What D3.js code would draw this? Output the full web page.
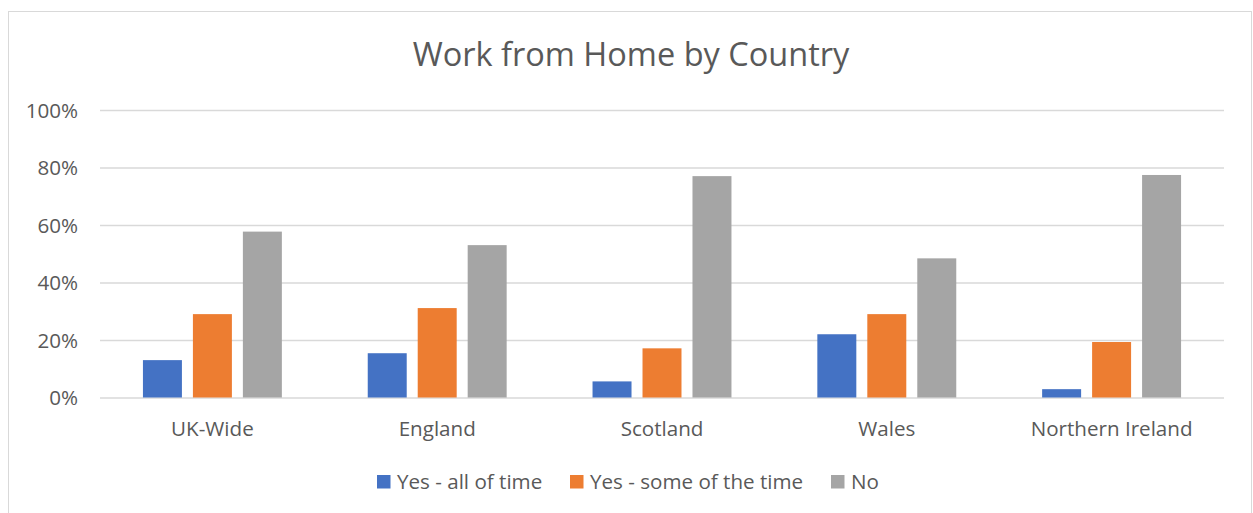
<!DOCTYPE html>
<html>
<head>
<meta charset="utf-8">
<script src="https://cdn.jsdelivr.net/npm/d3@7"></script>
<style>
  html, body { margin: 0; padding: 0; background: #ffffff; }
  svg { display: block; }
  text { font-family: "Open Sans", "Noto Sans", sans-serif; fill: #595959; }
</style>
</head>
<body>
<svg id="chart" width="1253" height="513"></svg>
<script>
// Share of workers working from home, by country
const categories = ["UK-Wide", "England", "Scotland", "Wales", "Northern Ireland"];
const seriesNames = ["Yes - all of time", "Yes - some of the time", "No"];
const allOfTime  = [13.0, 15.4, 5.6, 22.0, 2.9];
const someOfTime = [29.0, 31.1, 17.1, 29.0, 19.3];
const noWfh      = [57.7, 53.0, 77.0, 48.4, 77.4];
const yTicks = [0, 20, 40, 60, 80, 100];
const colors = ["#4472c4", "#ed7d31", "#a5a5a5"];

const seriesValues = [allOfTime, someOfTime, noWfh];
const rows = categories.map((c, i) => ({
  category: c,
  values: seriesNames.map((s, k) => ({ series: s, value: seriesValues[k][i] }))
}));

const svg = d3.select("#chart");
const W = 1253, H = 513;
const labelSize = 20.6;

// chart frame
svg.append("rect")
  .attr("x", 8.5).attr("y", 11.5)
  .attr("width", W - 10).attr("height", H)
  .attr("fill", "#ffffff")
  .attr("stroke", "#d9d9d9").attr("stroke-width", 1);

const plot = { left: 100, right: 1224, top: 110, bottom: 397.5 };

const x0 = d3.scaleBand()
  .domain(categories)
  .range([plot.left, plot.right])
  .paddingInner(0.382)
  .paddingOuter(0.191);

const x1 = d3.scaleBand()
  .domain(seriesNames)
  .range([0, x0.bandwidth()])
  .paddingInner(0.22);

const y = d3.scaleLinear().domain([0, 100]).range([plot.bottom, plot.top]);

// horizontal gridlines and percentage labels
const yAxis = d3.axisLeft(y)
  .tickValues(yTicks)
  .tickSize(-(plot.right - plot.left))
  .tickPadding(22)
  .tickFormat(d => d + "%");

const gy = svg.append("g")
  .attr("transform", `translate(${plot.left},0)`)
  .call(yAxis);
gy.select(".domain").remove();
gy.selectAll(".tick line").attr("stroke", "#d9d9d9").attr("stroke-width", 1.3);
gy.selectAll(".tick text")
  .attr("font-size", labelSize)
  .attr("fill", "#595959")
  .attr("dy", "0.35em");

// bars
const groups = svg.append("g").selectAll("g")
  .data(rows)
  .join("g")
  .attr("transform", d => `translate(${x0(d.category)},0)`);

groups.selectAll("rect")
  .data(d => d.values)
  .join("rect")
  .attr("x", d => x1(d.series))
  .attr("y", d => y(d.value))
  .attr("width", x1.bandwidth())
  .attr("height", d => y(0) - y(d.value))
  .attr("fill", (d, i) => colors[i]);

// category labels
const xAxis = d3.axisBottom(x0).tickSize(0).tickPadding(24);
const gx = svg.append("g")
  .attr("transform", `translate(0,${plot.bottom})`)
  .call(xAxis);
gx.select(".domain").remove();
gx.selectAll(".tick text")
  .attr("font-size", labelSize)
  .attr("fill", "#595959");

// title
svg.append("text")
  .attr("x", 631).attr("y", 66)
  .attr("text-anchor", "middle")
  .attr("font-size", 32.5)
  .text("Work from Home by Country");

// legend
const legendItems = [
  { name: seriesNames[0], x: 377 },
  { name: seriesNames[1], x: 570 },
  { name: seriesNames[2], x: 831 }
];
const legend = svg.append("g");
legendItems.forEach((item, i) => {
  legend.append("rect")
    .attr("x", item.x).attr("y", 475)
    .attr("width", 13.5).attr("height", 13.5)
    .attr("fill", colors[i]);
  legend.append("text")
    .attr("x", item.x + 20).attr("y", 489)
    .attr("font-size", labelSize)
    .text(item.name);
});
</script>
</body>
</html>
